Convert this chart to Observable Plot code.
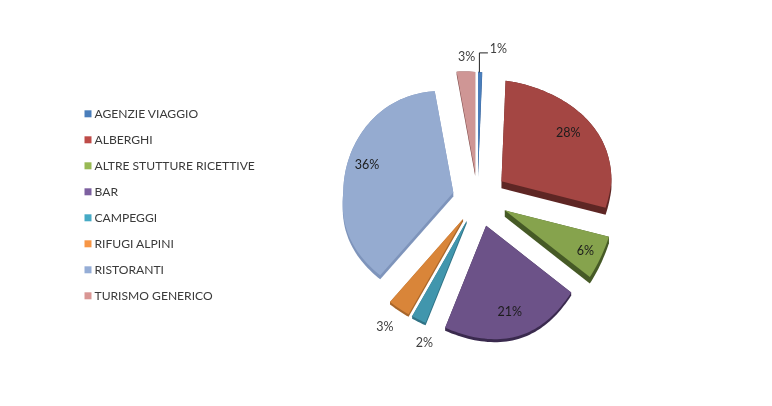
<!DOCTYPE html>
<html><head><meta charset="utf-8">
<script src="https://cdn.jsdelivr.net/npm/d3@7"></script>
<script src="https://cdn.jsdelivr.net/npm/@observablehq/plot@0.6"></script>
<style>html,body{margin:0;padding:0;background:#fff}svg{display:block}</style>
</head><body><div id="chart"></div>
<script>
const categories = ["AGENZIE VIAGGIO","ALBERGHI","ALTRE STUTTURE RICETTIVE","BAR","CAMPEGGI","RIFUGI ALPINI","RISTORANTI","TURISMO GENERICO"];
const values = [0.6,28.2,6,21,2,3,36.4,2.7];
const legendColors = ["#4a7ebb","#be4b48","#98b954","#7d60a0","#46aac5","#f79646","#95add6","#d99694"];
const topColors = ["#4a7ebb","#a44643","#86a34d","#6c5288","#4196ad","#d98539","#95abd0","#cf9695"];
const wallColors = ["#2f5587","#5e2624","#465a26","#3a2a4e","#2f7285","#a8662a","#7e94bb","#7d4a49"];
const explode = [27,30,30,30,26,26,25,27];
const depth = [4,7,6.5,3,2.5,2.5,4,3];
const labelFactor = [1.2,0.76,0.84,0.8,1.22,1.22,0.82,1.12];
const labelShiftX = [18,0,0,-1,16,0,1,2];
const labelShiftY = [-3,-3,1,-2,2,-1,-5,-2];

const W = 772, H = 406, cx = 477, cy = 198;
const radX = a => 110 + (Math.cos(a) < 0 ? 12*Math.cos(a)*Math.sin(a) : 0);
const radY = a => 107 - 6*Math.cos(a) - 10*Math.sin(a)*Math.cos(a);
const pie = d3.pie().sort(null)(values);
const slices = pie.map((p, i) => {
  const ex = explode[i], mid = (p.startAngle + p.endAngle)/2;
  const apex = [cx + ex*Math.sin(mid), cy - ex*0.95*Math.cos(mid)];
  const n = Math.max(3, Math.ceil((p.endAngle - p.startAngle)/0.03));
  const arc = d3.range(n + 1).map(j => {
    const a = p.startAngle + (p.endAngle - p.startAngle)*j/n;
    return [apex[0] + radX(a)*Math.sin(a), apex[1] - radY(a)*Math.cos(a)];
  });
  const top = [apex, ...arc];
  const bottom = top.map(([x, y]) => [x, y + depth[i]]);
  const f = labelFactor[i];
  return {i, name: categories[i], label: Math.round(values[i]) + "%", top, wall: d3.polygonHull([...top, ...bottom]),
    outer: arc[Math.floor(n/2)],
    labelX: apex[0] + f*radX(mid)*Math.sin(mid) + labelShiftX[i],
    labelY: apex[1] - f*radY(mid)*Math.cos(mid) + labelShiftY[i],
    inside: f < 1};
});
const rows = (key, field) => slices.flatMap(s => s[field].map(([x, y]) => ({x, y, z: s.name, c: key[s.i]})));
const legend = categories.map((name, i) => ({name, i}));
const rowY = i => 113.3 + 26*i;
const lead = slices[0];
const leader = [
  {x: lead.outer[0], y: lead.outer[1]},
  {x: lead.outer[0], y: lead.labelY + 4},
  {x: lead.labelX - 11, y: lead.labelY + 4}
];
const chart = Plot.plot({
  width: W, height: H, margin: 0,
  x: {domain: [0, W], range: [0, W], axis: null},
  y: {domain: [0, H], range: [0, H], axis: null},
  color: {type: "identity"},
  style: {fontFamily: "Lato", background: "#fff", filter: "blur(0.45px)"},
  marks: [
    Plot.line(rows(wallColors, "wall"), {x: "x", y: "y", z: "z", fill: "c", stroke: null}),
    Plot.line(rows(topColors, "top"), {x: "x", y: "y", z: "z", fill: "c", stroke: null}),
    Plot.line(leader, {x: "x", y: "y", stroke: "#222", strokeWidth: 1}),
    Plot.text(slices, {x: "labelX", y: "labelY", text: "label", fontSize: 12.5,
      fill: d => d.inside ? "#1c1c1c" : "#404040", textAnchor: "middle"}),
    Plot.dot(legend, {x: 87.5, y: d => rowY(d.i), symbol: "square", r: 3.95, fill: d => legendColors[d.i]}),
    Plot.text(legend, {x: 94, y: d => rowY(d.i), text: "name", textAnchor: "start", fontSize: 12.1, fill: "#3a3a3a"})
  ]
});
document.getElementById("chart").append(chart);
</script></body></html>
